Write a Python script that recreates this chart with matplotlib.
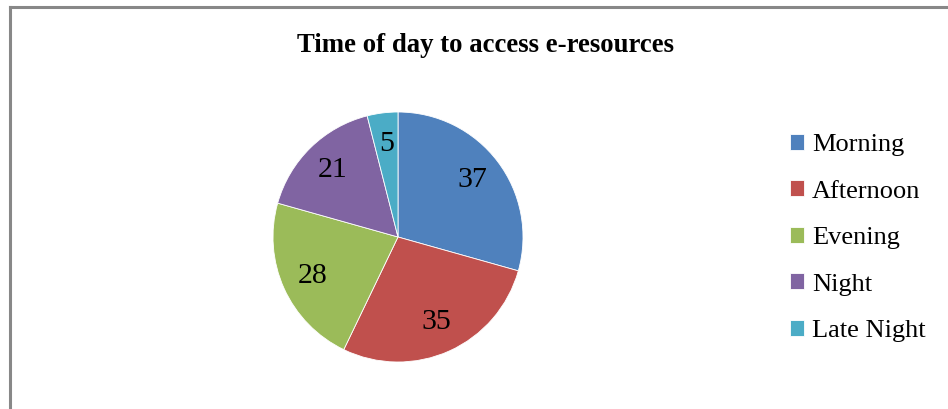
import matplotlib
matplotlib.use("Agg")
from matplotlib import pyplot as plt
from matplotlib.lines import Line2D

# data
labels = ["Morning", "Afternoon", "Evening", "Night", "Late Night"]
values = [37, 35, 28, 21, 5]
colors = ["#4F81BD", "#C0504D", "#9BBB59", "#8064A2", "#4BACC6"]

plt.rcParams['font.family'] = ['Liberation Serif', 'DejaVu Serif']

W, H = 948, 409
fig = plt.figure(figsize=(W / 100, H / 100), dpi=100)

# chart border (top and left visible)
fig.add_artist(Line2D([9.5 / W, 1], [1 - 6.5 / H, 1 - 6.5 / H], color="#888888", lw=2.2))
fig.add_artist(Line2D([9.5 / W, 9.5 / W], [0, 1 - 6.5 / H], color="#888888", lw=2.2))

cx, cy, r = 398, 237, 125
ax = fig.add_axes([(cx - r) / W, 1 - (cy + r) / H, 2 * r / W, 2 * r / H])
wedges, texts = ax.pie(values, colors=colors, startangle=90, counterclock=False,
                       labels=[str(v) for v in values], labeldistance=0.75,
                       wedgeprops=dict(edgecolor="white", linewidth=0.6),
                       textprops=dict(fontsize=21.5, ha="center", va="center"))
ax.set_xlim(-1, 1)
ax.set_ylim(-1, 1)
ax.set_aspect("equal")

fig.text(486 / W, 1 - 46 / H, "Time of day to access e-resources", ha="center", va="center",
         fontsize=19.3, fontweight="bold")

fig.legend(wedges, labels, loc="center left", bbox_to_anchor=(779 / W, 1 - 238 / H),
           frameon=False, fontsize=19, handlelength=0.55, handleheight=0.55,
           handletextpad=0.3, labelspacing=0.92, borderaxespad=0)

fig.savefig("out.png", dpi=100)
